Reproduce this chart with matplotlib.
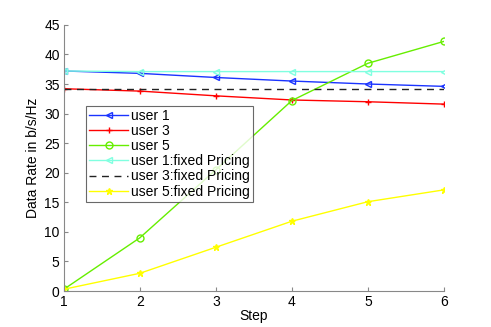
import matplotlib
matplotlib.use("Agg")
import matplotlib.pyplot as plt

steps = [1, 2, 3, 4, 5, 6]
user1 = [37.2, 36.8, 36.1, 35.5, 35.0, 34.6]
user3 = [34.2, 33.8, 33.0, 32.3, 32.0, 31.6]
user5 = [0.3, 9.0, 20.5, 32.2, 38.5, 42.2]
user1_fixed = [37.2, 37.1, 37.1, 37.1, 37.1, 37.1]
user3_fixed = [34.1, 34.1, 34.1, 34.1, 34.1, 34.1]
user5_fixed = [0.3, 3.0, 7.4, 11.8, 15.1, 17.1]
labels = ["user 1", "user 3", "user 5", "user 1:fixed Pricing",
          "user 3:fixed Pricing", "user 5:fixed Pricing"]

plt.rcParams['font.family'] = ['Liberation Sans', 'DejaVu Sans']
fig = plt.figure(figsize=(4.91, 3.27), dpi=100)
ax = fig.add_axes([0.130, 0.110, 0.774, 0.814])

lw = 1.0
ms = 5
ax.plot(steps, user1, color='#1a33ff', marker='<', mfc='none', ms=ms, lw=lw, label=labels[0])
ax.plot(steps, user3, color='#ff0000', marker='+', ms=ms, lw=lw, label=labels[1])
ax.plot(steps, user5, color='#66ee00', marker='o', mfc='none', ms=ms, lw=lw, label=labels[2])
ax.plot(steps, user1_fixed, color='#80ffe0', marker='<', mfc='none', ms=ms, lw=lw, label=labels[3])
ax.plot(steps, user3_fixed, color='#222222', ls=(0, (5, 4)), lw=lw, label=labels[4])
ax.plot(steps, user5_fixed, color='#ffff00', marker='*', ms=4.5, lw=lw, label=labels[5])

ax.set_xlim(1, 6)
ax.set_ylim(0, 45)
ax.set_xticks(steps)
ax.set_yticks(range(0, 46, 5))
ax.set_xlabel("Step", fontsize=10, labelpad=0)
ax.set_ylabel("Data Rate in b/s/Hz", fontsize=10, labelpad=3)
for s in ['top', 'right']:
    ax.spines[s].set_visible(False)
for s in ['left', 'bottom']:
    ax.spines[s].set_color('#888888')
ax.tick_params(direction='in', length=3, color='#888888', labelsize=10, pad=3)

leg = ax.legend(loc='upper left', bbox_to_anchor=(0.058, 0.697), fontsize=10,
                frameon=True, fancybox=False, handlelength=2.8, borderpad=0.25,
                labelspacing=0.08, handletextpad=0.2, borderaxespad=0)
leg.get_frame().set_edgecolor('#444444')
leg.get_frame().set_linewidth(0.8)

fig.savefig("out.png", dpi=100)
